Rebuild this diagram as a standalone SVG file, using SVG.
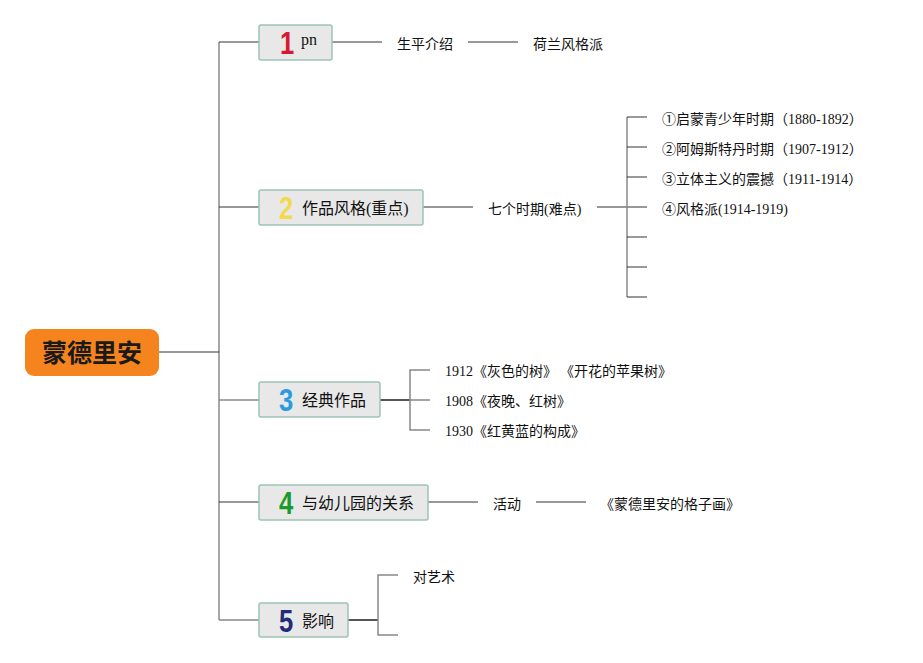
<svg xmlns="http://www.w3.org/2000/svg" width="923" height="663" viewBox="0 0 923 663">
<style>
.bg{fill:#ffffff}
.root{fill:#f5841f}
.rootT{font-family:"Noto Sans CJK SC","Liberation Sans",sans-serif;font-size:25px;font-weight:bold;fill:#1a1a1a}
.box{fill:#e8e8e8;stroke:#9cc4b4;stroke-width:1.5}
.num{font-family:"Liberation Sans","DejaVu Sans",sans-serif;font-weight:bold;font-size:32px}
.lbl{font-family:"Liberation Serif","Noto Sans CJK SC",serif;font-size:16px;fill:#111}
.t{font-family:"Liberation Serif","Noto Sans CJK SC",serif;font-size:14px;fill:#111}
.ln{stroke:#333;stroke-width:1;fill:none}
.tr{stroke:#888;stroke-width:1.5;fill:none}
.dk{stroke:#555;stroke-width:2;fill:none}
</style>
<rect class="bg" x="0" y="0" width="923" height="663"/>
<g id="connectors">
<path class="tr" d="M219,42 V620"/>
<path class="ln" d="M159,352 H219"/>
<path class="ln" d="M219,42 H259"/>
<path class="ln" d="M219,207 H259"/>
<path class="tr" d="M219,400 H259"/>
<path class="ln" d="M219,502 H259"/>
<path class="tr" d="M219,620 H259"/>
<path class="ln" d="M332,42 H382"/>
<path class="ln" d="M468,42 H518"/>
<path class="ln" d="M423,207 H473"/>
<path class="ln" d="M597,207 H647"/>
<path class="tr" d="M627,117 V297"/>
<path class="ln" d="M627,117 H647 M627,147 H647 M627,177 H647 M627,237 H647 M627,267 H647 M627,297 H647"/>
<path class="dk" d="M380,400 H410"/>
<path class="tr" d="M430,370 H410 V430 H430 M410,400 H430"/>
<path class="ln" d="M428,502 H478"/>
<path class="ln" d="M536,502 H586"/>
<path class="dk" d="M348,620 H378"/>
<path class="tr" d="M398,575 H378 V635 H398"/>
</g>
<g id="root">
<rect class="root" x="25" y="329" width="134" height="47" rx="9"/>
<text class="rootT" x="92" y="362" text-anchor="middle">蒙德里安</text>
</g>
<g id="n1">
<rect class="box" x="259" y="25" width="73" height="35" rx="2"/>
<text class="num" transform="translate(287,54) scale(0.8,1)" fill="#d6192c" text-anchor="middle">1</text>
<text class="lbl" x="301" y="45">pn</text>
</g>
<g id="n1a"><text class="t" x="397" y="49">生平介绍</text></g>
<g id="n1b"><text class="t" x="533" y="49">荷兰风格派</text></g>
<g id="n2">
<rect class="box" x="259" y="190" width="164" height="35" rx="2"/>
<text class="num" transform="translate(286,219) scale(0.8,1)" fill="#f2d94e" text-anchor="middle">2</text>
<text class="lbl" x="302" y="214">作品风格(重点)</text>
</g>
<g id="n2a"><text class="t" x="488" y="214">七个时期(难点)</text></g>
<g id="n2b">
<text class="t" x="662" y="124">①启蒙青少年时期（1880-1892）</text>
<text class="t" x="662" y="154">②阿姆斯特丹时期（1907-1912）</text>
<text class="t" x="662" y="184">③立体主义的震撼（1911-1914）</text>
<text class="t" x="662" y="214">④风格派(1914-1919)</text>
</g>
<g id="n3">
<rect class="box" x="259" y="382" width="121" height="35" rx="2"/>
<text class="num" transform="translate(286,411) scale(0.8,1)" fill="#2b9be0" text-anchor="middle">3</text>
<text class="lbl" x="302" y="406">经典作品</text>
</g>
<g id="n3a">
<text class="t" x="445" y="376">1912《灰色的树》<tspan dx="10">《开花的苹果树》</tspan></text>
<text class="t" x="445" y="406">1908《夜晚、红树》</text>
<text class="t" x="445" y="436">1930《红黄蓝的构成》</text>
</g>
<g id="n4">
<rect class="box" x="259" y="485" width="169" height="35" rx="2"/>
<text class="num" transform="translate(286,514) scale(0.8,1)" fill="#1a9a2a" text-anchor="middle">4</text>
<text class="lbl" x="302" y="509">与幼儿园的关系</text>
</g>
<g id="n4a"><text class="t" x="493" y="509">活动</text></g>
<g id="n4b"><text class="t" x="600" y="509">《蒙德里安的格子画》</text></g>
<g id="n5">
<rect class="box" x="259" y="603" width="89" height="34" rx="2"/>
<text class="num" transform="translate(286,632) scale(0.8,1)" fill="#1e2d7a" text-anchor="middle">5</text>
<text class="lbl" x="302" y="627">影响</text>
</g>
<g id="n5a"><text class="t" x="413" y="582">对艺术</text></g>
</svg>
